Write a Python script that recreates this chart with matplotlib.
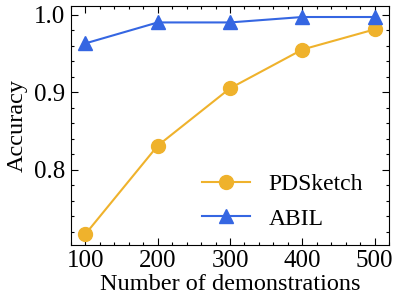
import matplotlib
matplotlib.use("Agg")
import matplotlib.pyplot as plt
from matplotlib.ticker import AutoMinorLocator

demos = [100, 200, 300, 400, 500]
pdsketch = [0.717, 0.831, 0.905, 0.955, 0.981]
abil = [0.963, 0.990, 0.990, 0.997, 0.997]

plt.rcParams['font.family'] = ['Liberation Serif', 'DejaVu Serif']
plt.rcParams['mathtext.fontset'] = 'stix'

fig = plt.figure(figsize=(3.99, 3.08), dpi=100)
ax = fig.add_axes([0.178, 0.205, 0.797, 0.775])

ax.plot(demos, pdsketch, color='#EFB22C', marker='o', markersize=10, linewidth=1.5, label='PDSketch')
ax.plot(demos, abil, color='#3566E2', marker='^', markersize=10, linewidth=1.5, label='ABIL')

ax.set_xticks(demos)
ax.set_yticks([0.8, 0.9, 1.0])
ax.set_yticklabels(['0.8', '0.9', '1.0'])
ax.xaxis.set_minor_locator(AutoMinorLocator(5))
ax.yaxis.set_minor_locator(AutoMinorLocator(5))
ax.tick_params(which='both', direction='in', top=True, right=True, labelsize=18)
ax.tick_params(which='major', length=5, width=0.8)
ax.tick_params(which='minor', length=2.5, width=0.8)
ax.tick_params(axis='x', pad=4)
ax.tick_params(axis='y', pad=4)

ax.set_xlabel('Number of demonstrations', fontsize=17.5, labelpad=1)
ax.set_ylabel('Accuracy', fontsize=17.5, labelpad=5)

ax.legend(loc='lower right', frameon=False, fontsize=17, handlelength=2.0,
          borderaxespad=0.5, labelspacing=0.55, handletextpad=0.8,
          bbox_to_anchor=(0.985, -0.025))

fig.savefig('out.png', dpi=100)
